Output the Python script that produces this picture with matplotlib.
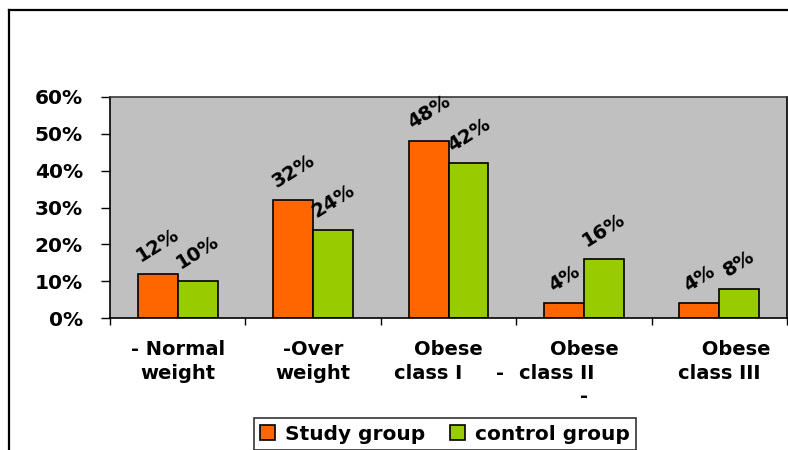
import matplotlib
matplotlib.use("Agg")
import matplotlib.pyplot as plt
import numpy as np
from matplotlib.lines import Line2D
from matplotlib.ticker import FixedLocator, PercentFormatter

plt.rcParams['font.family'] = ['DejaVu Sans']

categories = ["- Normal\nweight", "-Over\nweight", "Obese\nclass I     -",
              "Obese\nclass II        \n-", "     Obese\nclass III"]
study = [12, 32, 48, 4, 4]
control = [10, 24, 42, 16, 8]
series_names = ["Study group", "control group"]

orange = "#FF6600"
green = "#99CC00"

fig = plt.figure(figsize=(7.88, 4.5), dpi=100)
ax = fig.add_axes([110 / 788, 1 - 318 / 450, 677 / 788, 221 / 450])
ax.set_facecolor("#C0C0C0")

x = np.arange(len(categories))
w = 0.295
b1 = ax.bar(x - w / 2, study, w, color=orange, edgecolor="black", linewidth=1.2,
            label=series_names[0], zorder=2)
b2 = ax.bar(x + w / 2, control, w, color=green, edgecolor="black", linewidth=1.2,
            label=series_names[1], zorder=2)

# rotated value labels above each bar
for bars, vals in ((b1, study), (b2, control)):
    for r, v in zip(bars, vals):
        ax.annotate(f"{v}%", (r.get_x() + r.get_width() / 2, v),
                    xytext=(0, 6), textcoords="offset points",
                    ha="center", va="bottom", rotation=32,
                    fontsize=14, fontweight="semibold")

ax.set_xlim(-0.5, len(categories) - 0.5)
ax.set_ylim(0, 60)
ax.yaxis.set_major_locator(FixedLocator(np.arange(0, 61, 10)))
ax.yaxis.set_major_formatter(PercentFormatter(decimals=0))
ax.tick_params(axis="y", length=6.5, width=1, pad=13, labelsize=14.5)
for t in ax.get_yticklabels():
    t.set_fontweight("bold")

ax.set_xticks(x)
ax.set_xticklabels(categories, fontsize=14, fontweight="bold", linespacing=1.3)
ax.tick_params(axis="x", which="major", length=0, pad=16)
ax.set_xticks(np.arange(-0.5, len(categories)), minor=True)
ax.tick_params(axis="x", which="minor", length=5, width=1)

for s in ("left", "bottom", "right"):
    ax.spines[s].set_color("black")
    ax.spines[s].set_linewidth(1.2)
ax.spines["top"].set_color("#3a3a3a")
ax.spines["top"].set_linewidth(1.2)

# outer chart frame (left and top edges)
fig.add_artist(Line2D([9 / 788, 9 / 788], [0, 1 - 10 / 450], color="black", lw=1.6))
fig.add_artist(Line2D([9 / 788, 1], [1 - 10 / 450, 1 - 10 / 450], color="black", lw=1.6))

leg = fig.legend(handles=[b1, b2], loc="center", bbox_to_anchor=(445 / 788, 1 - 434 / 450),
                 ncol=2, frameon=True, fancybox=False, shadow=False,
                 prop={"size": 14.5, "weight": "bold"}, handlelength=0.75,
                 handleheight=0.75, handletextpad=0.5, columnspacing=1.2,
                 borderpad=0.3, borderaxespad=0)
leg.get_frame().set_edgecolor("black")
leg.get_frame().set_linewidth(1.2)

fig.savefig("out.png", dpi=100)
